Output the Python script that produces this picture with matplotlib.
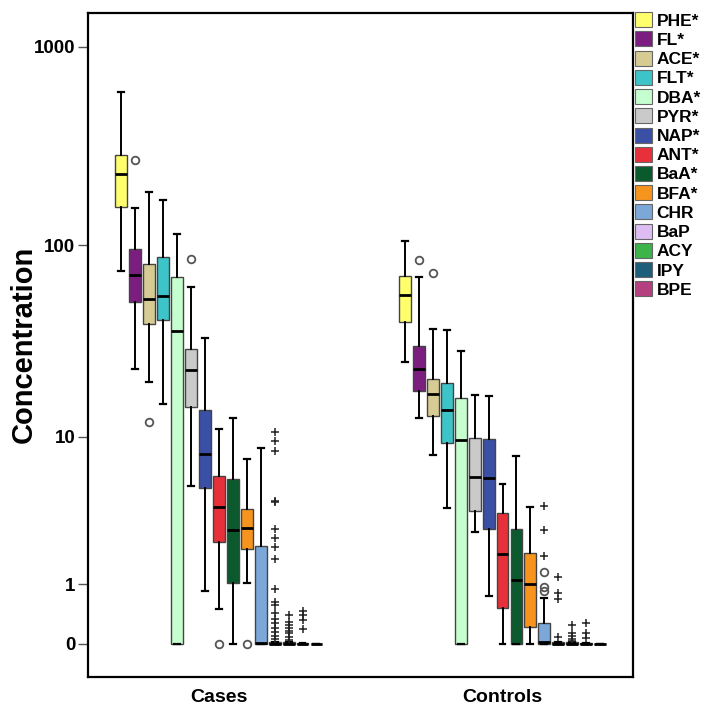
import matplotlib
matplotlib.use("Agg")
import matplotlib.pyplot as plt
from matplotlib.patches import Patch
import numpy as np

plt.rcParams['font.family'] = ['Liberation Sans', 'DejaVu Sans']
plt.rcParams['font.weight'] = 'bold'

# compounds, legend order = box order inside each group
names = ['PHE*', 'FL*', 'ACE*', 'FLT*', 'DBA*', 'PYR*', 'NAP*', 'ANT*', 'BaA*', 'BFA*',
         'CHR', 'BaP', 'ACY', 'IPY', 'BPE']
colors = ['#FFFF6E', '#7B1E80', '#D6CB93', '#3CC4C9', '#C6FFCF', '#CACACA', '#3A4FA6',
          '#E8303A', '#0A5A2E', '#F7941D', '#7BA8D8', '#DDBDF2', '#3CB44A', '#1E5E78', '#B5407F']
groups = ['Cases', 'Controls']

# Cases
cases_whishi = [595, 153.6, 185, 169, 113.5, 61.4, 33.4, 11.0, 12.7, 7.48, 8.7, 0.02, 0.02, 0.01, 0]
cases_q3 = [285.6, 95.6, 80.2, 87.4, 69.1, 29.5, 14.0, 5.99, 5.72, 3.79, 2.12, 0.02, 0.02, 0.01, 0]
cases_med = [228, 70.2, 53, 55.3, 36.4, 22.7, 7.98, 3.86, 2.73, 2.84, 0.01, 0, 0, 0, 0]
cases_q1 = [156.6, 51.5, 39.4, 41.5, 0, 14.5, 5.1, 2.26, 1.02, 2.0, 0, 0, 0, 0, 0]
cases_whislo = [73.9, 23, 19.7, 15.1, 0, 5.25, 0.85, 0.5, 0, 1.03, 0, 0, 0, 0, 0]
cases_out = [[], [269], [12], [], [], [84.7], [], [0], [], [0], [], [], [], [], []]
cases_ext = [[], [], [], [], [], [], [], [], [], [], [],
             [10.6, 9.5, 8.3, 4.2, 4.15, 2.8, 2.4, 2.06, 1.66, 0.88, 0.63, 0.56, 0.43,
              0.33, 0.28, 0.2, 0.145, 0.1, 0.06],
             [0.4, 0.295, 0.246, 0.2, 0.162, 0.13, 0.088, 0.047],
             [0.46, 0.40, 0.32, 0.185], []]

# Controls
ctrl_whishi = [105.3, 68.6, 37.3, 36.7, 28.6, 16.9, 16.7, 5.35, 7.78, 3.88, 0.7, 0.02, 0.02, 0.01, 0]
ctrl_q3 = [69.9, 30.5, 20.5, 19.4, 16.2, 9.8, 9.7, 3.54, 2.8, 1.87, 0.28, 0.02, 0.02, 0.01, 0]
ctrl_med = [55.5, 23.2, 17.1, 14.0, 9.6, 5.93, 5.8, 1.82, 1.10, 1.0, 0.02, 0, 0, 0, 0]
ctrl_q1 = [40.5, 17.6, 12.9, 9.2, 0, 3.68, 2.8, 0.52, 0, 0.22, 0, 0, 0, 0, 0]
ctrl_whislo = [25.2, 12.6, 7.9, 3.8, 0, 2.66, 0.74, 0, 0, 0, 0, 0, 0, 0, 0]
ctrl_out = [[], [84.1], [71.9], [], [], [], [], [], [], [], [1.30, 0.94, 0.85], [], [], [], []]
ctrl_ext = [[], [], [], [], [], [], [], [], [], [], [3.95, 2.74, 1.78],
            [1.18, 0.80, 0.68, 0.088],
            [0.24, 0.136, 0.097, 0.06, 0.035],
            [0.27, 0.13, 0.072], []]

yticks = [0, 1, 10, 100, 1000]

# axis is log10(x + 1), so 0 can sit on it
fwd = lambda v: np.log10(np.clip(v, -0.99, None) + 1)
inv = lambda t: 10 ** t - 1

fig = plt.figure(figsize=(7.14, 7.14), dpi=100)
ax = fig.add_axes([0.123, 0.052, 0.764, 0.930])
ax.set_yscale('function', functions=(fwd, inv))

pitch = 0.0492
width = 0.042
group_data = [
    (cases_whislo, cases_q1, cases_med, cases_q3, cases_whishi, cases_out, cases_ext),
    (ctrl_whislo, ctrl_q1, ctrl_med, ctrl_q3, ctrl_whishi, ctrl_out, ctrl_ext),
]

for g, (wlo, q1, med, q3, whi, outs, exts) in enumerate(group_data):
    pos = [g + 1 + (i - 7) * pitch for i in range(len(names))]
    stats = []
    for i in range(len(names)):
        stats.append(dict(whislo=wlo[i], q1=q1[i], med=med[i], q3=q3[i], whishi=whi[i], fliers=[]))
    bp = ax.bxp(stats, positions=pos, widths=width, patch_artist=True, showfliers=False,
                capwidths=width * 0.5,
                boxprops=dict(edgecolor='#444444', linewidth=1.0),
                medianprops=dict(color='black', linewidth=2),
                whiskerprops=dict(color='black', linewidth=1.4),
                capprops=dict(color='black', linewidth=1.6))
    for patch, c in zip(bp['boxes'], colors):
        patch.set_facecolor(c)
    for i in range(len(names)):
        if outs[i]:
            ax.plot([pos[i]] * len(outs[i]), outs[i], 'o', ms=5.5, mfc='none', mec='#555555', mew=1.3)
        if exts[i]:
            ax.plot([pos[i]] * len(exts[i]), exts[i], '+', ms=6, color='#222222', mew=1.1)

ax.set_xlim(0.5386, 2.461)
ax.set_ylim(-0.317, 1481)
ax.set_yticks(yticks)
ax.set_yticklabels([str(t) for t in yticks])
ax.minorticks_off()
ax.set_xticks([1, 2])
ax.set_xticklabels(groups)
ax.tick_params(axis='x', length=0, labelsize=14, pad=9)
ax.tick_params(axis='y', length=7, width=1, color='#555555', labelsize=13.5, pad=2)
for lab in ax.get_xticklabels() + ax.get_yticklabels():
    lab.set_fontweight('bold')
for s in ax.spines.values():
    s.set_linewidth(1.6)
ax.set_ylabel('Concentration', fontsize=21, fontweight='bold')
ax.yaxis.set_label_coords(-0.092, 0.5)

handles = [Patch(facecolor=c, edgecolor='#666666', linewidth=0.8) for c in colors]
leg = fig.legend(handles, names, loc='upper left', bbox_to_anchor=(0.889, 0.983),
                 frameon=False, handlelength=1.0, handleheight=0.95, handletextpad=0.25,
                 labelspacing=0.16, borderaxespad=0, borderpad=0,
                 prop=dict(weight='bold', size=12.5))

fig.savefig('out.png', dpi=100)
